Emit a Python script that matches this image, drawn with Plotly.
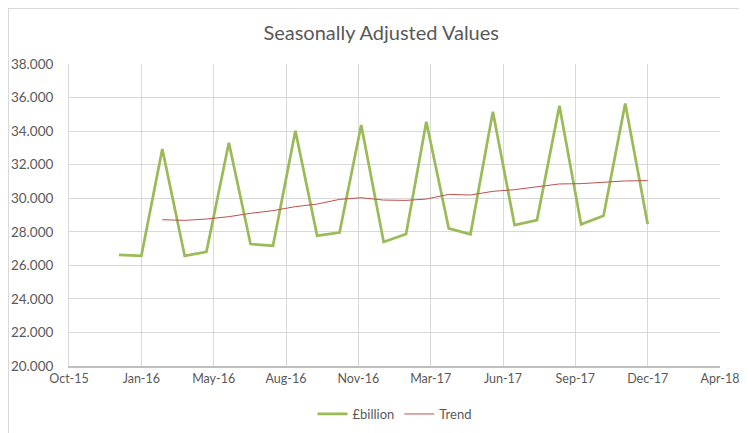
import plotly.graph_objects as go
import pandas as pd

# Data (month-end dates)
months = pd.date_range("2015-12-31", "2017-12-31", freq="ME")
billion = [26.62, 26.56, 32.93, 26.56, 26.81, 33.31, 27.27, 27.17, 34.02,
           27.77, 27.95, 34.36, 27.39, 27.87, 34.56, 28.20, 27.85, 35.16,
           28.40, 28.70, 35.51, 28.44, 28.96, 35.65, 28.46]
trend_months = months[2:]
trend = [28.72, 28.68, 28.76, 28.90, 29.10, 29.26, 29.50, 29.65, 29.93,
         30.03, 29.89, 29.87, 29.95, 30.23, 30.19, 30.41, 30.51, 30.70,
         30.85, 30.87, 30.97, 31.03, 31.05]

axis_min = pd.Timestamp("2015-10-23")
axis_max = axis_min + pd.Timedelta(days=900)
tick_step_days = 100

font_family = "Lato, 'Open Sans', sans-serif"
grey = "#595959"

W, H = 739, 425
ML, MR, MT, MB = 61, 27, 56, 67
plot_w = W - ML - MR
plot_h = H - MT - MB

fig = go.Figure()
fig.add_trace(go.Scatter(x=months, y=billion, mode="lines", name="£billion",
                         line=dict(color="#9BBB59", width=2.75)))
fig.add_trace(go.Scatter(x=trend_months, y=trend, mode="lines", name="Trend",
                         line=dict(color="#C0504D", width=1)))

fig.update_layout(
    width=W, height=H,
    margin=dict(l=ML, r=MR, t=MT, b=MB, autoexpand=False),
    paper_bgcolor="white", plot_bgcolor="white",
    font=dict(family=font_family, color=grey, size=13),
    title=dict(text="Seasonally Adjusted Values", x=0.505, xanchor="center",
               y=1 - 25 / H, yanchor="middle",
               font=dict(size=20, color=grey, family=font_family)),
    showlegend=True,
    legend=dict(orientation="h", x=0.5, xanchor="center", y=-48 / plot_h, yanchor="middle",
                font=dict(size=13, color=grey), itemwidth=30),
    xaxis=dict(type="date", range=[axis_min, axis_max], automargin=False,
               tick0=axis_min, dtick=tick_step_days * 86400000,
               tickformat="%b-%y", showgrid=True, gridcolor="#D9D9D9", gridwidth=1,
               showline=True, linecolor="#BFBFBF", linewidth=1.5,
               ticks="", tickfont=dict(size=12.5, color=grey), zeroline=False),
    yaxis=dict(range=[20, 38], dtick=2, tickformat=".3f", automargin=False,
               showgrid=True, gridcolor="#D9D9D9", gridwidth=1,
               showline=True, linecolor="#D9D9D9", linewidth=1,
               ticks="", tickfont=dict(size=13.5, color=grey), zeroline=False,
               ticklabelstandoff=12),
    shapes=[
        dict(type="line", xref="paper", yref="paper", x0=-(ML - 0.5) / plot_w, x1=(W - ML) / plot_w,
             y0=(plot_h + MT - 0.5) / plot_h, y1=(plot_h + MT - 0.5) / plot_h,
             line=dict(color="#D9D9D9", width=1)),
        dict(type="line", xref="paper", yref="paper", x0=-(ML - 0.5) / plot_w, x1=-(ML - 0.5) / plot_w,
             y0=(plot_h + MT) / plot_h, y1=-MB / plot_h,
             line=dict(color="#D9D9D9", width=1)),
    ],
)

fig.write_html("out.html")
